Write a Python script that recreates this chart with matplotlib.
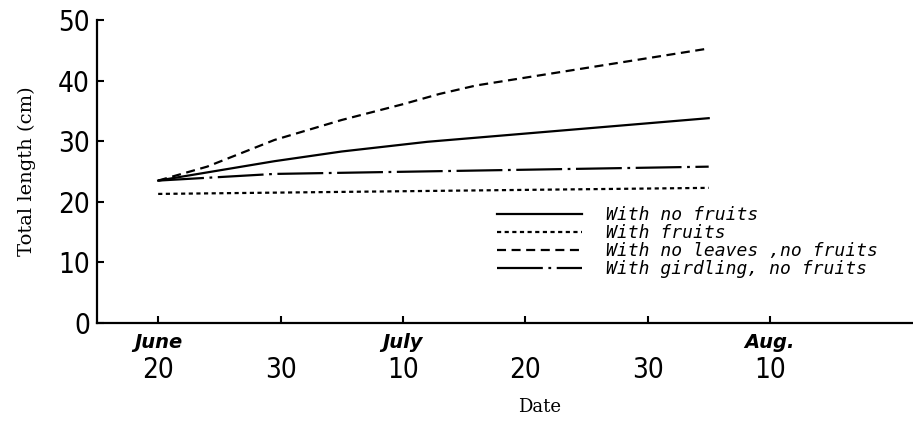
import matplotlib
matplotlib.use("Agg")
import matplotlib.pyplot as plt

# Days after June 20
days_no_fruits = [0, 9.5, 15, 22, 45]
len_no_fruits = [23.5, 26.7, 28.3, 29.9, 33.8]

days_fruits = [0, 45]
len_fruits = [21.3, 22.3]

days_no_leaves = [0, 4, 9.5, 15, 20, 23, 26, 45]
len_no_leaves = [23.5, 25.8, 30.2, 33.5, 36.1, 37.8, 39.2, 45.3]

days_girdling = [0, 9.5, 45]
len_girdling = [23.5, 24.6, 25.8]

x_ticks = [0, 10, 20, 30, 40, 50]
x_ticklabels = ["20", "30", "10", "20", "30", "10"]
month_pos = [0, 20, 50]
month_labels = ["June", "July", "Aug."]
y_ticks = [0, 10, 20, 30, 40, 50]

labels = ["With no fruits", "With fruits", "With no leaves ,no fruits",
          "With girdling, no fruits"]

plt.rcParams['lines.scale_dashes'] = False

fig = plt.figure(figsize=(9.13, 4.29), dpi=100)
ax = fig.add_axes([97 / 913, (429 - 323) / 429, 1 - 97 / 913, (323 - 20) / 429])

lw = 1.6
l1, = ax.plot(days_no_fruits, len_no_fruits, color='black', lw=lw, ls='-')
l2, = ax.plot(days_fruits, len_fruits, color='black', lw=lw, ls=(0, (3, 2.5)))
l3, = ax.plot(days_no_leaves, len_no_leaves, color='black', lw=lw, ls=(0, (6.5, 4)))
l4, = ax.plot(days_girdling, len_girdling, color='black', lw=lw, ls=(0, (33, 4, 2, 4)))

ax.set_xlim(-5.0, 61.7)
ax.set_ylim(0, 50)

for s in ['top', 'right']:
    ax.spines[s].set_visible(False)
for s in ['left', 'bottom']:
    ax.spines[s].set_linewidth(1.6)

ax.set_yticks(y_ticks)
ax.set_yticklabels([str(v) for v in y_ticks])
ax.set_xticks(x_ticks)
ax.set_xticklabels(x_ticklabels)
ax.tick_params(axis='both', direction='in', length=5, width=1.5)
ax.tick_params(axis='y', pad=5)
ax.tick_params(axis='x', pad=24)
for t in ax.get_yticklabels() + ax.get_xticklabels():
    t.set_fontfamily('DejaVu Sans')
    t.set_fontstretch('condensed')
    t.set_fontsize(20)
    t.set_fontweight('light')

trans = matplotlib.transforms.blended_transform_factory(ax.transData, ax.transAxes)
for pos, lab in zip(month_pos, month_labels):
    ax.text(pos, -0.065, lab, transform=trans, ha='center', va='center',
            fontsize=14, fontstyle='italic', fontweight='bold', family='DejaVu Sans')

ax.set_ylabel("Total length (cm)", family='DejaVu Serif', fontsize=14, labelpad=16)
fig.text(540 / 913, 1 - 407 / 429, "Date", family='DejaVu Serif', fontsize=13,
         ha='center', va='center')

leg = ax.legend([l1, l2, l3, l4], labels, loc='upper left',
                bbox_to_anchor=((497 - 97) / 816, (323 - 206) / 303),
                frameon=False, handlelength=4.7, handletextpad=1.35,
                labelspacing=0.0, borderaxespad=0, borderpad=0,
                prop={'family': 'DejaVu Sans Mono', 'style': 'italic', 'size': 13})

fig.savefig("out.png", dpi=100)
